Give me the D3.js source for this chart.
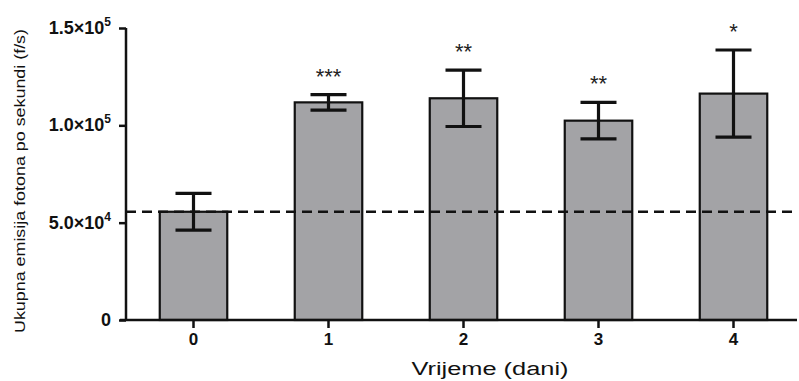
<!DOCTYPE html>
<html>
<head>
<meta charset="utf-8">
<script src="https://cdn.jsdelivr.net/npm/d3@7"></script>
<style>
  body { margin: 0; background: #fff; }
  svg { font-family: "Liberation Sans", Arial, sans-serif; }
</style>
</head>
<body>
<svg id="chart" width="799" height="381"></svg>
<script>
var days = ["0", "1", "2", "3", "4"];
var means = [55600, 111800, 113900, 102400, 116300];
var errs = [9400, 4000, 14500, 9400, 22400];
var stars = ["", "***", "**", "**", "*"];
var baseline = 55600;
var yTicks = [0, 50000, 100000, 150000];
var yTickMant = ["0", "5.0", "1.0", "1.5"];
var yTickExp = ["", "4", "5", "5"];

(function() {
  var svg = d3.select("#chart");
  var mLeft = 126, mRight = 801, mTop = 28, mBottom = 320;

  var x = d3.scaleBand().domain(days).range([mLeft, mRight]).paddingInner(0.5).paddingOuter(0.25);
  var y = d3.scaleLinear().domain([0, 150000]).range([mBottom, mTop]);
  var cx = function(i) { return x(days[i]) + x.bandwidth() / 2; };

  // bars
  svg.selectAll(".bar")
    .data(means)
    .enter().append("rect")
    .attr("class", "bar")
    .attr("x", function(d, i) { return x(days[i]); })
    .attr("y", function(d) { return y(d); })
    .attr("width", x.bandwidth())
    .attr("height", function(d) { return y(0) - y(d); })
    .style("fill", "#a3a3a6")
    .style("stroke", "#111")
    .style("stroke-width", 2.2);

  // dashed reference line
  svg.append("line")
    .attr("x1", mLeft).attr("x2", 797)
    .attr("y1", y(baseline)).attr("y2", y(baseline))
    .style("stroke", "#111")
    .style("stroke-width", 2.5)
    .style("stroke-dasharray", "10,6");

  // error bars
  var eb = svg.selectAll(".err")
    .data(means)
    .enter().append("g")
    .attr("class", "err");
  eb.append("line")
    .attr("x1", function(d, i) { return cx(i); })
    .attr("x2", function(d, i) { return cx(i); })
    .attr("y1", function(d, i) { return y(d + errs[i]); })
    .attr("y2", function(d, i) { return y(d - errs[i]); });
  eb.append("line")
    .attr("x1", function(d, i) { return cx(i) - 18; })
    .attr("x2", function(d, i) { return cx(i) + 18; })
    .attr("y1", function(d, i) { return y(d + errs[i]); })
    .attr("y2", function(d, i) { return y(d + errs[i]); });
  eb.append("line")
    .attr("x1", function(d, i) { return cx(i) - 18; })
    .attr("x2", function(d, i) { return cx(i) + 18; })
    .attr("y1", function(d, i) { return y(d - errs[i]); })
    .attr("y2", function(d, i) { return y(d - errs[i]); });
  eb.selectAll("line").style("stroke", "#111").style("stroke-width", 3.2);

  // significance stars
  svg.selectAll(".star")
    .data(means)
    .enter().append("text")
    .attr("class", "star")
    .attr("x", function(d, i) { return cx(i); })
    .attr("y", function(d, i) { return y(d + errs[i]) - 11; })
    .attr("text-anchor", "middle")
    .style("font-size", "22px")
    .style("fill", "#222")
    .text(function(d, i) { return stars[i]; });

  // axes
  var yAxis = svg.append("g")
    .attr("transform", "translate(" + mLeft + ",0)")
    .call(d3.axisLeft(y).tickValues(yTicks).tickSize(7).tickFormat(""));
  var xAxis = svg.append("g")
    .attr("transform", "translate(0," + mBottom + ")")
    .call(d3.axisBottom(x).tickSize(8).tickSizeOuter(0));
  [yAxis, xAxis].forEach(function(a) {
    a.select(".domain").style("stroke", "#111").style("stroke-width", 2.5);
    a.selectAll(".tick line").style("stroke", "#111").style("stroke-width", 2.5);
  });
  xAxis.select(".domain").attr("d", "M" + (mLeft - 6) + ",0H797");
  yAxis.select(".domain").attr("d", "M0," + mTop + "V" + (mBottom + 1));
  xAxis.attr("font-size", null).attr("font-family", null);
  xAxis.selectAll(".tick text")
    .attr("y", 13)
    .style("font-size", "17px")
    .style("font-weight", "bold")
    .style("fill", "#111");

  // y tick labels with superscript exponents
  var yl = svg.selectAll(".ylab")
    .data(yTicks)
    .enter().append("text")
    .attr("class", "ylab")
    .attr("x", mLeft - 15)
    .attr("y", function(d) { return y(d) + 6; })
    .attr("text-anchor", "end")
    .style("font-size", "18px")
    .style("font-weight", "bold")
    .style("fill", "#111");
  yl.append("tspan").text(function(d, i) { return i === 0 ? "0" : yTickMant[i] + "\u00d710"; });
  yl.append("tspan")
    .attr("dy", -8)
    .style("font-size", "12px")
    .text(function(d, i) { return yTickExp[i]; });

  // axis titles
  svg.append("text")
    .attr("x", 490).attr("y", 375)
    .attr("text-anchor", "middle")
    .attr("textLength", 157)
    .attr("lengthAdjust", "spacingAndGlyphs")
    .style("font-size", "18px")
    .style("fill", "#111")
    .text("Vrijeme (dani)");
  svg.append("text")
    .attr("transform", "translate(25,181) rotate(-90)")
    .attr("text-anchor", "middle")
    .attr("textLength", 304)
    .attr("lengthAdjust", "spacingAndGlyphs")
    .style("font-size", "15px")
    .style("fill", "#111")
    .text("Ukupna emisija fotona po sekundi (f/s)");
})();
</script>
</body>
</html>
